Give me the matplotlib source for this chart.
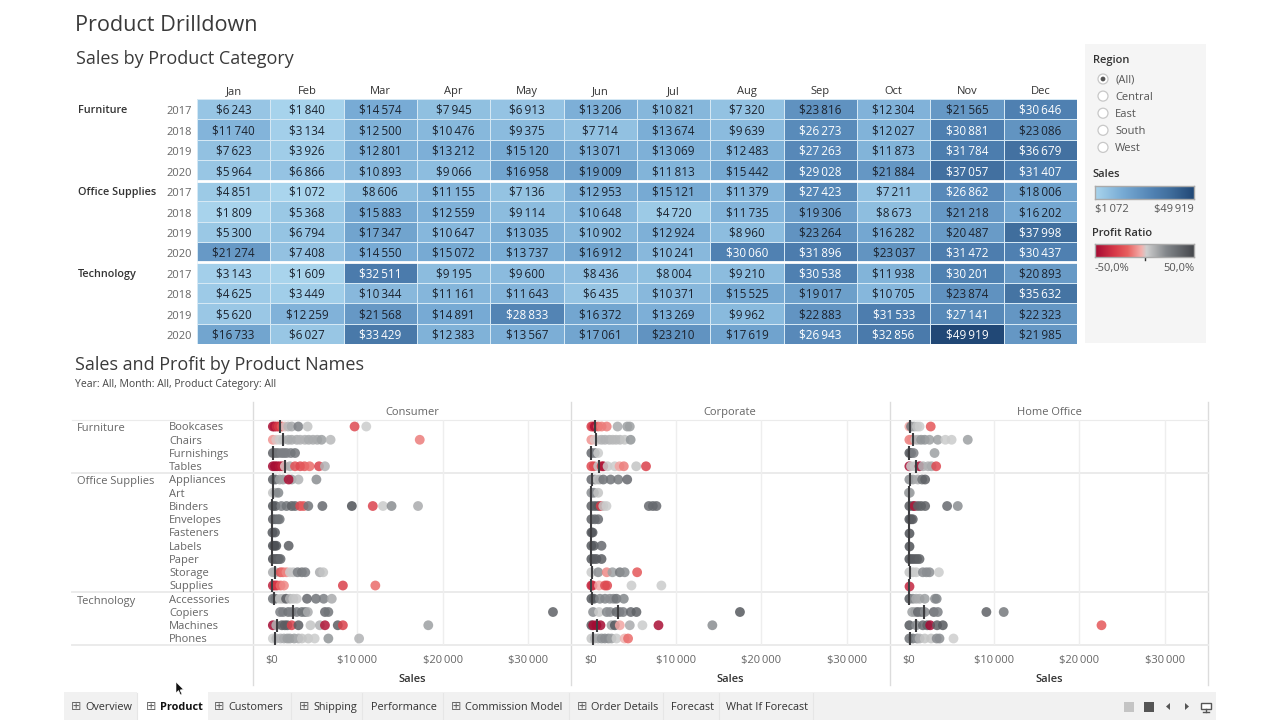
import matplotlib
matplotlib.use("Agg")
import matplotlib.pyplot as plt
import numpy as np
from matplotlib.colors import LinearSegmentedColormap, Normalize
from matplotlib.patches import Rectangle, Circle, Polygon

FONT = ['Open Sans', 'DejaVu Sans']
plt.rcParams['font.family'] = FONT

# ---------- data: heat map ----------
months = ['Jan', 'Feb', 'Mar', 'Apr', 'May', 'Jun', 'Jul', 'Aug', 'Sep', 'Oct', 'Nov', 'Dec']
years = ['2017', '2018', '2019', '2020'] * 3
categories = ['Furniture', 'Office Supplies', 'Technology']
furniture_sales = [
    [6243, 1840, 14574, 7945, 6913, 13206, 10821, 7320, 23816, 12304, 21565, 30646],
    [11740, 3134, 12500, 10476, 9375, 7714, 13674, 9639, 26273, 12027, 30881, 23086],
    [7623, 3926, 12801, 13212, 15120, 13071, 13069, 12483, 27263, 11873, 31784, 36679],
    [5964, 6866, 10893, 9066, 16958, 19009, 11813, 15442, 29028, 21884, 37057, 31407],
]
office_sales = [
    [4851, 1072, 8606, 11155, 7136, 12953, 15121, 11379, 27423, 7211, 26862, 18006],
    [1809, 5368, 15883, 12559, 9114, 10648, 4720, 11735, 19306, 8673, 21218, 16202],
    [5300, 6794, 17347, 10647, 13035, 10902, 12924, 8960, 23264, 16282, 20487, 37998],
    [21274, 7408, 14550, 15072, 13737, 16912, 10241, 30060, 31896, 23037, 31472, 30437],
]
technology_sales = [
    [3143, 1609, 32511, 9195, 9600, 8436, 8004, 9210, 30538, 11938, 30201, 20893],
    [4625, 3449, 10344, 11161, 11643, 6435, 10371, 15525, 19017, 10705, 23874, 35632],
    [5620, 12259, 21568, 14891, 28833, 16372, 13269, 9962, 22883, 31533, 27141, 22323],
    [16733, 6027, 33429, 12383, 13567, 17061, 23210, 17619, 26943, 32856, 49919, 21985],
]

# ---------- data: dot panels, (sales, profit ratio) per product ----------
products = ['Bookcases', 'Chairs', 'Furnishings', 'Tables', 'Appliances', 'Art', 'Binders',
            'Envelopes', 'Fasteners', 'Labels', 'Paper', 'Storage', 'Supplies',
            'Accessories', 'Copiers', 'Machines', 'Phones']
segments = ['Consumer', 'Corporate', 'Home Office']
x_ticks = [0, 10000, 20000, 30000]

consumer_points = [
    [(100, -.48), (300, -.45), (550, -.35), (800, -.3), (1130, -.2), (1500, .0), (1900, .08), (2300, .12), (3080, .25), (4170, .05), (9670, -.25), (11040, .03)],
    [(100, -.08), (500, .0), (900, .03), (1300, .05), (1900, .12), (2300, .12), (2900, .12), (3300, .1), (3850, .1), (4300, .12), (4800, .12), (5300, .12), (5800, .15), (6860, .08), (17300, -.12)],
    [(100, .38), (400, .3), (700, .28), (1100, .25), (1400, .25), (1700, .25), (2200, .25), (2700, .3)],
    [(100, -.5), (350, -.5), (600, -.48), (900, -.45), (1200, -.4), (1500, .0), (2100, .12), (2700, -.22), (3300, -.25), (3800, -.2), (4400, -.15), (5500, -.28), (6200, .1)],
    [(100, .38), (400, .35), (900, .15), (1300, .15), (2300, .15), (1950, -.48), (3100, .1), (5200, .2)],
    [(100, .05), (400, .1), (750, .22)],
    [(100, .42), (400, .42), (1100, .25), (1700, .3), (2300, .38), (2700, .35), (3300, -.25), (3700, -.2), (4250, .3), (5900, .35), (9350, .45), (11800, -.27), (13000, .03), (14000, .2), (17100, .12)],
    [(100, .38), (400, .35), (700, .32), (900, .3)],
    [(50, .42), (350, .42)],
    [(100, .45), (300, .45), (500, .45), (1950, .4)],
    [(100, .45), (400, .42), (600, .4), (800, .38), (1000, .35)],
    [(100, .12), (400, .1), (1000, -.22), (1300, -.15), (1700, -.1), (2100, .03), (2500, .04), (3000, .25), (3500, .28), (3900, .25), (5600, .12), (6000, .05)],
    [(100, -.4), (350, -.38), (600, -.3), (1000, -.15), (1400, -.1), (8300, -.28), (12100, -.15)],
    [(100, .3), (400, .3), (900, .05), (1250, .08), (1650, .4), (2100, .1), (2500, .05), (2900, .04), (4100, .35), (5150, .3), (6050, .25), (7000, .12)],
    [(950, .25), (1300, .25), (1900, .3), (2300, .25), (2900, .25), (3500, .3), (3900, .3), (4200, .12), (6200, .35), (6600, .3), (32900, .38)],
    [(100, -.5), (500, .1), (1150, .4), (1500, .4), (1800, .4), (2300, -.28), (3100, .4), (4500, .05), (5600, .1), (6200, -.45), (7700, .4), (8300, -.28), (18300, .15)],
    [(100, .03), (500, .08), (1000, .1), (1400, .12), (1800, .15), (2100, .15), (2600, .15), (3100, .12), (3500, .05), (4250, .05), (5000, .03), (6600, .18), (10200, .1)],
]
consumer_median = [940, 1250, 100, 1480, 100, 100, 50, 50, 50, 50, 50, 310, 50, 200, 2500, 600, 400]

corporate_points = [
    [(100, -.3), (300, -.3), (500, -.48), (900, -.15), (1300, -.12), (1900, -.12), (3170, .12), (4300, .15), (4600, .15)],
    [(100, -.08), (500, .0), (900, .02), (1300, .1), (1700, .1), (2200, .1), (2600, .08), (3000, .08), (3450, .08), (4000, .05), (4700, .18)],
    [(100, .35), (500, .25), (900, .03)],
    [(100, -.25), (400, -.25), (900, .05), (1300, -.3), (1500, -.48), (2000, .03), (2850, .03), (3400, -.05), (3900, -.12), (5350, .05), (6500, -.28)],
    [(100, .35), (500, .2), (800, .05), (1100, .1), (1500, .3), (2350, .3), (3250, .28), (4300, .35)],
    [(100, .2), (400, .2), (900, .05)],
    [(100, .38), (500, .4), (900, .42), (1200, -.3), (1500, .05), (1870, .03), (6830, .35), (7300, .35), (7720, .35)],
    [(100, .38), (500, .35), (900, .35)],
    [(100, .42), (240, .42)],
    [(100, .42), (390, .42), (1290, .35)],
    [(100, .42), (400, .42), (700, .4), (1290, .4)],
    [(100, .03), (900, .2), (1900, -.1), (2570, .15), (3430, .28), (4000, .2), (5460, -.2)],
    [(100, -.38), (250, -.35), (1000, -.05), (1700, -.25), (1950, -.25), (4800, .03), (8300, .03)],
    [(100, .42), (400, .42), (1100, .22), (1700, .22), (2260, .2), (2700, .2), (3040, .3), (3900, .22)],
    [(300, .2), (1000, .03), (1900, .22), (2300, .2), (3040, .35), (3400, .3), (3820, .25), (4720, .35), (5380, .38), (17500, .42)],
    [(100, .4), (310, -.5), (700, -.5), (1170, -.5), (2460, .15), (2850, .42), (3430, -.05), (4600, .12), (6080, .03), (7960, -.48), (14270, .2)],
    [(100, .05), (500, .1), (900, .12), (1300, .18), (1680, .2), (2100, .2), (2460, .15), (3040, .03), (4000, -.02), (4400, -.15)],
]
corporate_median = [500, 700, 10, 1000, 200, 10, 10, 10, 10, 10, 10, 200, 10, 200, 3170, 780, 270]

home_points = [
    [(100, -.05), (300, .3), (650, .12), (1000, .05), (1300, .03), (2600, -.2)],
    [(100, -.12), (400, -.1), (800, .05), (1100, .1), (1480, .18), (1900, .18), (2460, .15), (3430, .15), (4320, .03), (5050, .03), (6940, .15)],
    [(100, .42), (300, .4), (600, .25), (3050, .15)],
    [(100, -.48), (300, .03), (700, .05), (1290, -.48), (1700, .1), (2300, .1), (2700, .12), (3240, -.25)],
    [(100, .2), (500, .15), (1100, .12), (1600, .3), (1950, .38)],
    [(50, .15), (150, .15)],
    [(100, .4), (500, .4), (700, -.45), (1100, .38), (1480, .38), (1950, .38), (4520, .35), (5770, .2)],
    [(100, .45), (300, .42), (500, .4)],
    [(50, .45)],
    [(50, .45)],
    [(100, .45), (400, .42), (700, .4), (1000, .4), (1290, .38)],
    [(100, .05), (500, .05), (900, .03), (1680, .2), (2100, .2), (2460, .2), (3560, .03)],
    [(100, -.38)],
    [(100, .42), (500, .2), (900, .12), (1300, .12), (1900, .15), (3100, .2), (3300, .22)],
    [(430, .15), (800, .15), (1100, .35), (1500, .3), (1900, .2), (2960, .35), (3430, .25), (9120, .38), (11150, .28)],
    [(100, .42), (900, .2), (1680, .35), (2200, .38), (2540, -.5), (3350, .4), (4020, .42), (22600, -.2)],
    [(100, .3), (500, .3), (1000, .2), (1300, .1), (1900, .05), (2650, .05), (3300, .2), (3630, .2), (5270, .02)],
]
home_median = [230, 500, 50, 900, 120, 10, 10, 10, 10, 10, 10, 200, 10, 100, 1790, 900, 200]

region_options = ['(All)', 'Central', 'East', 'South', 'West']
tab_names = ['Overview', 'Product', 'Customers', 'Shipping', 'Performance',
             'Commission Model', 'Order Details', 'Forecast', 'What If Forecast']

# ---------- helpers ----------
W, H = 1280, 720
fig = plt.figure(figsize=(W / 100, H / 100), dpi=100, facecolor='white')


def add_axes_px(x0, y0, x1, y1, **kw):
    return fig.add_axes([x0 / W, 1 - y1 / H, (x1 - x0) / W, (y1 - y0) / H], **kw)


def money(v):
    return '$' + f'{v:,}'.replace(',', '\u2009')


sales_cmap = LinearSegmentedColormap.from_list('sales', [
    (0.0, '#aad5ed'), (0.27, '#79acd5'), (0.6, '#4f80b1'), (0.75, '#416f9e'), (1.0, '#214876')])
ratio_cmap = LinearSegmentedColormap.from_list('ratio', [
    (0.0, '#a50a33'), (0.2, '#d83a48'), (0.33, '#e8605f'), (0.47, '#f4b0ad'),
    (0.52, '#cfcfcf'), (0.72, '#83878b'), (1.0, '#45474c')])

TXT = '#333333'
GREY = '#666666'

# ---------- pixel-space background ----------
bg = add_axes_px(0, 0, W, H)
bg.set_xlim(0, W)
bg.set_ylim(H, 0)
bg.axis('off')
bg.set_zorder(0)
DY = 1.3

bg.text(75, 24 + DY, 'Product Drilldown', fontsize=15.6, color='#3a3a3a', va='center')
bg.text(76, 58 + DY, 'Sales by Product Category', fontsize=13, color='#3a3a3a', va='center')
bg.text(75, 364 + DY, 'Sales and Profit by Product Names', fontsize=13, color='#3a3a3a', va='center')
bg.text(75, 383 + DY, 'Year: All, Month: All, Product Category: All', fontsize=7.5, color='#444444', va='center')

for name, y in zip(categories, [109.5, 191.5, 273.5]):
    bg.text(78, y + DY, name, fontsize=7.8, fontweight='semibold', color=TXT, va='center')

# filter panel
bg.add_patch(Rectangle((1085, 44), 121, 299, fc='#f5f5f5', ec='none'))
bg.text(1093, 59 + DY, 'Region', fontsize=8, fontweight='semibold', color=TXT, va='center')
for i, opt in enumerate(region_options):
    y = 79 + i * 17.1
    bg.add_patch(Circle((1103, y), 5, fc='white', ec='#c8c8c8', lw=0.9))
    if i == 0:
        bg.add_patch(Circle((1103, y), 2.4, fc='#555555', ec='none'))
    bg.text(1115, y + DY, opt, fontsize=8, color='#555555', va='center')
bg.text(1092, 173.5 + DY, 'Sales', fontsize=8, fontweight='semibold', color=TXT, va='center')
bg.text(1095, 208.5 + DY, money(1072), fontsize=8, color='#555555', va='center')
bg.text(1194, 208.5 + DY, money(49919), fontsize=8, color='#555555', va='center', ha='right')
bg.text(1092, 232 + DY, 'Profit Ratio', fontsize=8, fontweight='semibold', color=TXT, va='center')
bg.text(1095, 267 + DY, '-50,0%', fontsize=8, color='#555555', va='center')
bg.text(1194, 267 + DY, '50,0%', fontsize=8, color='#555555', va='center', ha='right')
bg.plot([1145, 1145], [256, 260], color='#333333', lw=1)

# dot-panel frame
for x in [253, 571, 890, 1208]:
    bg.plot([x, x], [402, 685], color='#dcdcdc', lw=1)
for y, lw in [(419.5, 0.8), (472.5, 1.4), (592, 1.4), (645, 1.4)]:
    bg.plot([72, 1208], [y, y], color='#ebebeb', lw=lw)

for name, y in zip(categories, [427, 480.5, 600]):
    bg.text(77, y + DY, name, fontsize=8, color=GREY, va='center')
for i, name in enumerate(products):
    bg.text(169, 426.5 + i * 13.25 + DY, name, fontsize=8, color=GREY, va='center')

# tab bar
bg.add_patch(Rectangle((64, 692), 1152, 28, fc='#f1f1f1', ec='none'))
tab_text_x = [85.5, 160, 228.5, 313, 371, 465, 591, 671, 726]
grid_tabs = [True, True, True, True, False, True, True, False, False]
tab_left = [64, 137, 208, 291, 362, 443, 569, 663, 719]
tab_right = [137, 208, 291, 362, 443, 569, 663, 719, 813]
for name, tx, g, l, r in zip(tab_names, tab_text_x, grid_tabs, tab_left, tab_right):
    active = name == 'Product'
    if active:
        bg.add_patch(Rectangle((l, 692), r - l, 28, fc='white', ec='none'))
    else:
        bg.plot([r, r], [693, 719], color='#e6e6e6', lw=0.8)
    if g:
        bg.text(tx - 9, 706, '\u229e', fontsize=9, color='#666666', va='center', ha='center',
                family='DejaVu Sans')
    bg.text(tx, 706 + DY, name, fontsize=7.8, color='#111111' if active else '#333333', va='center',
            fontweight='bold' if active else 'normal')
bg.add_patch(Rectangle((1124, 702), 10, 10, fc='#c4c4c4', ec='none'))
bg.add_patch(Rectangle((1144, 702), 10, 10, fc='#555555', ec='none'))
bg.add_patch(Polygon([(1170, 703), (1170, 710), (1166, 706.5)], fc='#555555', ec='none'))
bg.add_patch(Polygon([(1185, 703), (1185, 710), (1189, 706.5)], fc='#555555', ec='none'))
bg.add_patch(Rectangle((1201, 703), 10, 6, fc='white', ec='#555555', lw=1))
bg.plot([1206, 1206], [709, 712], color='#555555', lw=1)
bg.plot([1203, 1209], [712, 712], color='#555555', lw=1)

# ---------- heat map ----------
heat_values = np.array(furniture_sales + office_sales + technology_sales)
norm = Normalize(1072, 49919)
ax = add_axes_px(197, 99, 1077, 344)
ax.set_zorder(2)
ax.pcolormesh(np.arange(13), np.arange(13), heat_values, cmap=sales_cmap, norm=norm,
              edgecolors='#d5e8f4', linewidth=0.5)
ax.set_xlim(0, 12)
ax.set_ylim(12, 0)
for r in range(12):
    for c in range(12):
        v = heat_values[r, c]
        ax.text(c + .5, r + .56, money(int(v)), ha='center', va='center', fontsize=8.5,
                color='white' if v > 25000 else '#1c2430')
ax.hlines([4, 8], 0, 12, color='white', lw=2)
ax.set_xticks(np.arange(12) + .5, months)
ax.xaxis.tick_top()
ax.set_yticks(np.arange(12) + .56, years)
ax.tick_params(axis='both', length=0)
ax.tick_params(axis='x', labelsize=8, labelcolor=TXT, pad=1.5)
ax.tick_params(axis='y', labelsize=8, labelcolor=GREY, pad=4)
for s in ax.spines.values():
    s.set_visible(False)

# ---------- legends ----------
lg = add_axes_px(1095, 186, 1194, 199)
lg.set_zorder(2)
lg.imshow(np.linspace(0, 1, 256)[None, :], aspect='auto', cmap=sales_cmap, vmin=0, vmax=1)
lg2 = add_axes_px(1095, 244, 1194, 257)
lg2.set_zorder(2)
lg2.imshow(np.linspace(0, 1, 256)[None, :], aspect='auto', cmap=ratio_cmap, vmin=0, vmax=1)
for a in (lg, lg2):
    a.set_xticks([])
    a.set_yticks([])
    for s in a.spines.values():
        s.set_color('#aaaaaa')
        s.set_linewidth(1)

# ---------- dot panels ----------
panel_data = [
    (consumer_points, consumer_median, 253, 272),
    (corporate_points, corporate_median, 571, 590.5),
    (home_points, home_median, 890, 908.5),
]
PX_PER_K = 8.54
for seg, (points, med, left, zero) in zip(segments, panel_data):
    a = add_axes_px(left, 419.5, left + 318, 645)
    a.set_zorder(3)
    a.patch.set_visible(False)
    a.set_xlim(-(zero - left) / PX_PER_K * 1000, (left + 318 - zero) / PX_PER_K * 1000)
    a.set_ylim(16.49, -0.53)
    for v in x_ticks[1:]:
        a.axvline(v, color='#eeeeee', lw=1, zorder=1)
    for i, row in enumerate(points):
        xs, rs = zip(*row)
        a.scatter(xs, [i] * len(xs), c=rs, cmap=ratio_cmap, vmin=-.5, vmax=.5, s=50,
                  alpha=0.85, linewidths=0, zorder=2, clip_on=False)
    a.vlines(med, np.arange(17) - .5, np.arange(17) + .5, color='#3d3d40', lw=1.5, zorder=3)
    a.set_yticks([])
    a.set_xticks(x_ticks, [money(v) if v else '$0' for v in x_ticks])
    a.tick_params(axis='x', length=0, labelsize=8, labelcolor=GREY, pad=7)
    a.set_xlabel('Sales', fontsize=8, fontweight='semibold', color=TXT, labelpad=6)
    a.set_title(seg, fontsize=8, color=GREY, pad=3.5)
    for s in a.spines.values():
        s.set_visible(False)

# ---------- mouse cursor ----------
cursor = add_axes_px(0, 0, W, H)
cursor.set_xlim(0, W)
cursor.set_ylim(H, 0)
cursor.axis('off')
cursor.set_zorder(5)
cursor.add_patch(Polygon([(176, 682), (176, 693), (178.5, 690.5), (180.5, 695), (182, 694.3),
                          (180, 690), (183.5, 689.5)], fc='#111111', ec='white', lw=0.4))

fig.savefig('out.png', dpi=100)
